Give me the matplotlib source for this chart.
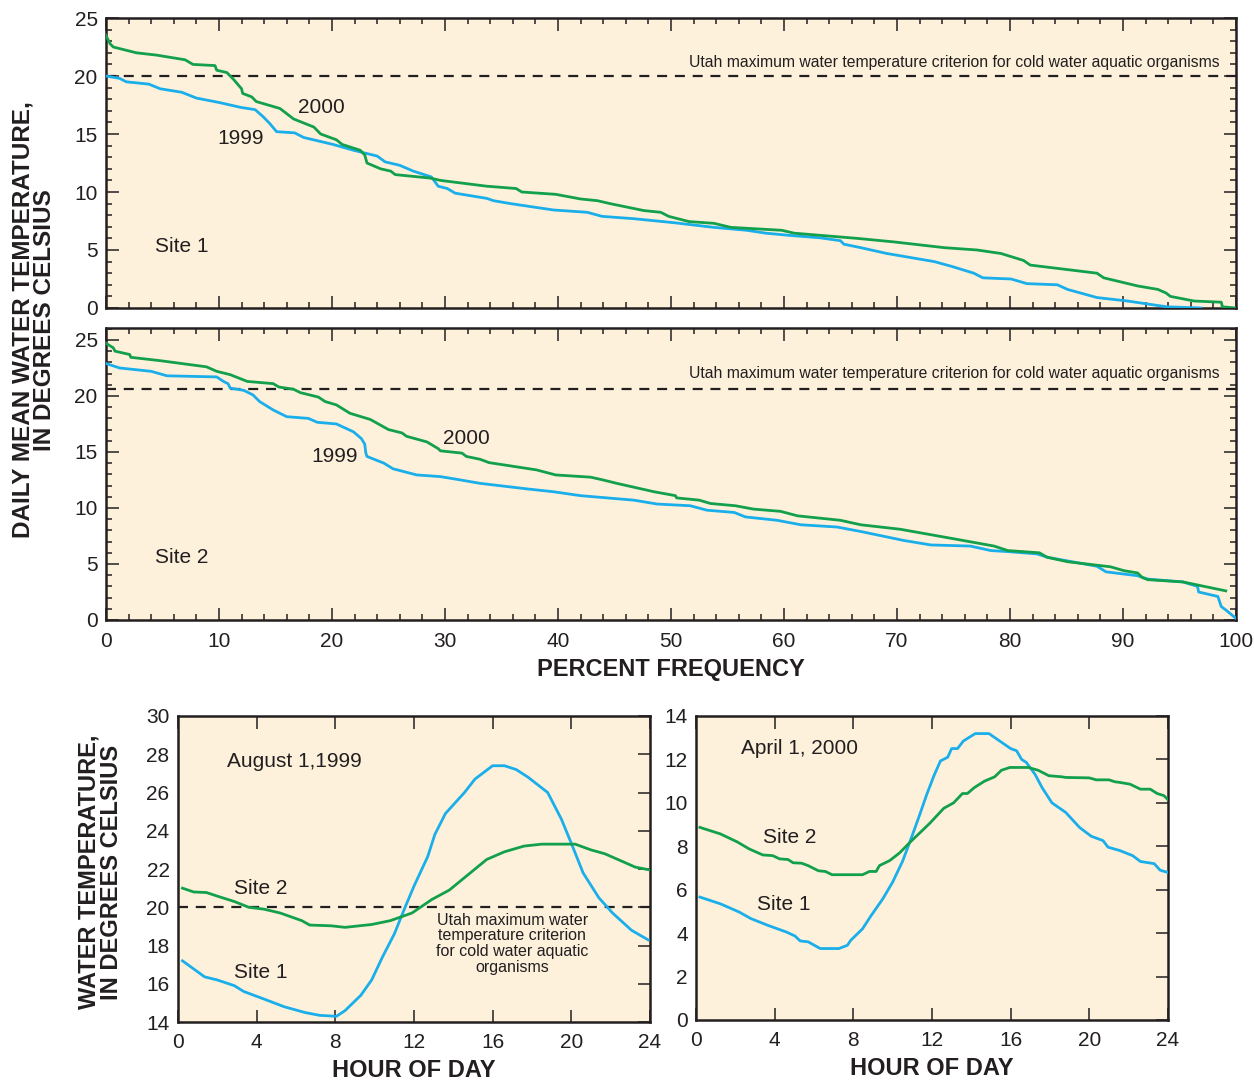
import numpy as np
import matplotlib
matplotlib.use("Agg")
import matplotlib.pyplot as plt
from matplotlib.ticker import MultipleLocator

plt.rcParams["font.family"] = ["Liberation Sans", "DejaVu Sans"]

# duration curves: percent of time a daily mean was equalled or exceeded
site1_2000_pct = [0, 0.35, 0.65, 2.7, 4.5, 7.0, 7.7, 9.65, 9.8, 10.7, 11.3, 12.0, 12.1, 12.9, 13.3,
                  15.4, 16.6, 18.4, 19.0, 20.4, 20.9, 22.5, 22.9, 23.1, 24.3, 25.2, 25.6, 28.7, 29.6,
                  33.7, 36.3, 36.8, 39.8, 42.0, 43.5, 44.6, 46.1, 47.6, 49.1, 49.8, 51.6, 53.8, 55.3,
                  59.8, 60.9, 66.5, 69.7, 74.2, 77.1, 79.2, 81.2, 81.8, 87.7, 88.3, 91.3, 93.1, 93.8,
                  94.2, 96.3, 98.7, 98.8, 100]
site1_2000_temp = [23.5, 22.8, 22.5, 22.0, 21.8, 21.4, 21.0, 20.9, 20.5, 20.3, 19.7, 18.9, 18.5, 18.2,
                   17.8, 17.2, 16.3, 15.6, 15.0, 14.5, 14.1, 13.6, 13.2, 12.5, 12.0, 11.8, 11.5, 11.2,
                   11.0, 10.5, 10.3, 10.0, 9.8, 9.4, 9.25, 9.0, 8.7, 8.4, 8.25, 7.9, 7.45, 7.3, 6.95,
                   6.7, 6.45, 6.0, 5.7, 5.2, 5.0, 4.7, 4.1, 3.7, 3.0, 2.6, 1.9, 1.6, 1.3, 1.0, 0.6, 0.5,
                   0.1, 0.0]

site1_1999_pct = [0, 1.2, 1.8, 3.8, 4.8, 6.7, 8.0, 10.1, 11.9, 13.2, 13.9, 14.5, 15.1, 16.7, 17.5,
                  20.1, 21.9, 24.0, 24.7, 26.0, 27.2, 28.8, 29.4, 30.2, 30.9, 33.7, 34.3, 35.8, 39.6,
                  42.6, 43.9, 46.7, 50.3, 53.8, 56.7, 58.4, 60.6, 63.2, 65.0, 65.3, 66.8, 69.1, 73.3,
                  74.8, 76.8, 77.6, 80.1, 81.5, 84.2, 85.1, 87.7, 90.4, 93.9, 96.9]
site1_1999_temp = [20.0, 19.8, 19.5, 19.3, 18.9, 18.6, 18.1, 17.7, 17.3, 17.1, 16.5, 15.9, 15.2, 15.1,
                   14.7, 14.1, 13.6, 13.1, 12.6, 12.3, 11.8, 11.3, 10.5, 10.3, 9.9, 9.45, 9.25, 9.0,
                   8.45, 8.25, 7.9, 7.7, 7.35, 6.95, 6.7, 6.45, 6.25, 6.05, 5.8, 5.5, 5.2, 4.7, 4.0,
                   3.6, 3.0, 2.6, 2.5, 2.1, 2.0, 1.6, 0.9, 0.6, 0.1, 0.0]

site2_2000_pct = [0, 0.65, 0.8, 2.1, 2.2, 4.8, 8.9, 9.8, 11.0, 12.5, 14.8, 15.3, 16.6, 17.2, 18.8,
                  19.4, 20.4, 21.6, 23.4, 25.0, 26.2, 26.6, 28.4, 29.4, 29.6, 31.5, 31.9, 33.1, 33.9,
                  38.1, 39.8, 42.9, 44.0, 45.2, 48.5, 50.4, 50.5, 52.5, 53.5, 55.7, 57.3, 59.7, 61.2,
                  65.0, 66.8, 70.3, 75.3, 78.6, 79.8, 82.6, 83.3, 85.1, 88.9, 90.1, 91.3, 91.7, 92.2,
                  95.3, 97.2, 99.1]
site2_2000_temp = [24.7, 24.3, 24.0, 23.7, 23.45, 23.15, 22.6, 22.2, 21.9, 21.3, 21.1, 20.8, 20.6,
                   20.3, 19.9, 19.5, 19.2, 18.45, 17.9, 17.0, 16.7, 16.4, 15.9, 15.3, 15.1, 14.9,
                   14.6, 14.35, 14.05, 13.4, 12.95, 12.75, 12.5, 12.2, 11.45, 11.1, 10.9, 10.7, 10.4,
                   10.2, 9.9, 9.7, 9.3, 8.9, 8.5, 8.1, 7.2, 6.6, 6.2, 6.0, 5.6, 5.2, 4.75, 4.4, 4.2,
                   3.8, 3.6, 3.4, 3.0, 2.6]

site2_1999_pct = [0, 1.2, 4.0, 5.4, 9.8, 10.4, 10.8, 11.0, 12.2, 13.0, 13.6, 14.8, 16.0, 17.9, 18.7,
                  20.4, 21.9, 22.6, 22.9, 23.0, 23.1, 24.6, 25.4, 27.5, 29.6, 31.1, 33.1, 37.3, 39.6,
                  42.0, 46.7, 48.8, 51.7, 53.2, 55.6, 56.6, 59.4, 61.5, 64.7, 66.8, 70.6, 73.0, 76.5,
                  78.3, 79.9, 82.4, 83.3, 87.7, 88.5, 91.3, 92.2, 95.3, 96.6, 96.7, 98.4, 98.7, 99.1,
                  100]
site2_1999_temp = [22.9, 22.5, 22.2, 21.8, 21.7, 21.3, 21.1, 20.7, 20.5, 20.1, 19.5, 18.75, 18.15,
                   18.0, 17.65, 17.5, 16.8, 16.2, 15.7, 14.9, 14.6, 14.0, 13.5, 12.95, 12.8, 12.55,
                   12.2, 11.7, 11.45, 11.1, 10.7, 10.35, 10.2, 9.8, 9.6, 9.2, 8.9, 8.5, 8.3, 7.9, 7.1,
                   6.7, 6.6, 6.2, 6.1, 5.9, 5.6, 4.8, 4.3, 3.95, 3.65, 3.4, 3.0, 2.5, 2.1, 1.2, 0.9,
                   0.15]

# hourly record, August 1, 1999
aug_site1_hour = [0.23, 1.36, 2.0, 2.87, 3.34, 4.38, 5.4, 6.45, 7.2, 8.06, 8.5, 9.3, 9.85, 10.4, 11.0,
                  11.55, 12.0, 12.7, 13.06, 13.6, 14.57, 15.1, 16.0, 16.6, 17.2, 17.8, 18.8, 19.5,
                  20.0, 20.6, 21.4, 22.1, 23.06, 23.9]
aug_site1_temp = [17.2, 16.36, 16.2, 15.9, 15.6, 15.2, 14.8, 14.5, 14.35, 14.3, 14.6, 15.4, 16.2, 17.4,
                  18.6, 20.0, 21.1, 22.65, 23.8, 24.9, 26.0, 26.7, 27.4, 27.4, 27.2, 26.8, 26.0, 24.6,
                  23.35, 21.8, 20.5, 19.7, 18.8, 18.3]
aug_site2_hour = [0.23, 0.8, 1.45, 2.1, 2.87, 3.6, 4.38, 5.2, 6.3, 6.7, 7.8, 8.5, 9.85, 10.8, 11.9,
                  12.9, 13.8, 14.75, 15.7, 16.6, 17.6, 18.5, 20.2, 21.0, 21.7, 22.7, 23.25, 24.0]
aug_site2_temp = [21.0, 20.8, 20.77, 20.55, 20.3, 20.0, 19.9, 19.7, 19.3, 19.07, 19.03, 18.95, 19.1,
                  19.3, 19.7, 20.4, 20.9, 21.7, 22.5, 22.9, 23.2, 23.3, 23.3, 23.0, 22.8, 22.35, 22.1,
                  21.95]

# hourly record, April 1, 2000
apr_site1_hour = [0.2, 1.24, 2.2, 2.79, 3.65, 4.6, 5.03, 5.3, 5.7, 6.32, 7.27, 7.7, 7.87, 8.47, 8.9,
                  9.5, 10.0, 10.5, 10.9, 11.3, 11.74, 12.1, 12.43, 12.8, 13.0, 13.3, 13.6, 14.2, 14.9,
                  15.44, 16.0, 16.3, 16.56, 16.8, 17.25, 17.6, 18.1, 18.8, 19.5, 20.1, 20.7, 20.95,
                  21.56, 22.2, 22.6, 23.3, 23.6, 23.97]
apr_site1_temp = [5.66, 5.35, 4.97, 4.67, 4.36, 4.05, 3.87, 3.64, 3.6, 3.29, 3.29, 3.44, 3.67, 4.2, 4.8,
                  5.58, 6.35, 7.3, 8.26, 9.26, 10.4, 11.25, 11.93, 12.1, 12.5, 12.5, 12.85, 13.19,
                  13.19, 12.85, 12.5, 12.4, 12.0, 11.86, 11.3, 10.7, 10.0, 9.56, 8.87, 8.46, 8.26,
                  7.96, 7.8, 7.57, 7.3, 7.2, 6.9, 6.8]
apr_site2_hour = [0.2, 1.24, 2.1, 2.7, 3.4, 3.9, 4.25, 4.68, 4.94, 5.37, 5.7, 6.23, 6.58, 6.92, 8.47,
                  8.82, 9.16, 9.33, 9.85, 10.36, 10.9, 11.5, 11.9, 12.6, 13.1, 13.55, 13.8, 14.15,
                  14.67, 15.19, 15.53, 15.96, 16.9, 17.4, 17.94, 18.6, 18.8, 20.0, 20.35, 21.0, 21.3,
                  21.56, 22.07, 22.6, 23.1, 23.45, 23.8, 23.97]
apr_site2_temp = [8.87, 8.57, 8.2, 7.88, 7.6, 7.57, 7.42, 7.39, 7.24, 7.22, 7.11, 6.87, 6.84, 6.69, 6.69,
                  6.84, 6.84, 7.11, 7.34, 7.7, 8.2, 8.72, 9.07, 9.75, 10.0, 10.43, 10.43, 10.7, 11.0,
                  11.2, 11.5, 11.63, 11.63, 11.5, 11.25, 11.2, 11.17, 11.15, 11.06, 11.06, 10.97,
                  10.94, 10.86, 10.63, 10.63, 10.43, 10.33, 10.17]

criterion = 20.0
criterion_site2 = 20.6

GREEN = "#12A04C"
BLUE = "#1AAEEA"
BG = "#FDF1DC"
INK = "#231F20"
CRIT_TEXT = "Utah maximum water temperature criterion for cold water aquatic organisms"


def style_axes(ax):
    ax.set_facecolor(BG)
    for sp in ax.spines.values():
        sp.set_linewidth(1.8)
        sp.set_color(INK)
    ax.tick_params(which="both", direction="in", top=True, right=True,
                   colors=INK, labelsize=15, width=1.1, pad=6)
    ax.tick_params(which="major", length=9)
    ax.tick_params(which="minor", length=4.5)


def crit_line(ax, y):
    ax.axhline(y, color=INK, lw=1.6, dashes=(4.5, 3.5), zorder=1)


fig = plt.figure(figsize=(12.54, 10.86), dpi=100)

ax1 = fig.add_axes([0.0845, 0.7164, 0.9011, 0.2670])
ax2 = fig.add_axes([0.0845, 0.4291, 0.9011, 0.2689])

for ax, ylim in ((ax1, 25), (ax2, 26.07)):
    style_axes(ax)
    ax.set_xlim(0, 100)
    ax.set_ylim(0, ylim)
    ax.xaxis.set_major_locator(MultipleLocator(10))
    ax.xaxis.set_minor_locator(MultipleLocator(2))
    ax.set_yticks([0, 5, 10, 15, 20, 25])
    ax.yaxis.set_minor_locator(MultipleLocator(1))
    ax.tick_params(axis="x", pad=9)

ax1.tick_params(axis="x", labelbottom=False)

ax1.plot(site1_1999_pct, site1_1999_temp, color=BLUE, lw=2, zorder=3)
ax1.plot(site1_2000_pct, site1_2000_temp, color=GREEN, lw=2, zorder=3)
crit_line(ax1, criterion)
ax1.text(98.6, 21.2, CRIT_TEXT, fontsize=11.3, color=INK, ha="right", va="center")
ax1.text(17.0, 17.3, "2000", fontsize=15, color=INK, va="center")
ax1.text(9.9, 14.65, "1999", fontsize=15, color=INK, va="center")
ax1.text(4.3, 5.3, "Site 1", fontsize=15, color=INK, va="center")

ax2.plot(site2_1999_pct, site2_1999_temp, color=BLUE, lw=2, zorder=3)
ax2.plot(site2_2000_pct, site2_2000_temp, color=GREEN, lw=2, zorder=3)
crit_line(ax2, criterion_site2)
ax2.text(98.6, 22.05, CRIT_TEXT, fontsize=11.3, color=INK, ha="right", va="center")
ax2.text(29.8, 16.2, "2000", fontsize=15, color=INK, va="center")
ax2.text(18.2, 14.6, "1999", fontsize=15, color=INK, va="center")
ax2.text(4.3, 5.6, "Site 2", fontsize=15, color=INK, va="center")
ax2.set_xlabel("PERCENT FREQUENCY", fontsize=17, fontweight="bold", color=INK, labelpad=5)

fig.text(0.027, 0.7053, "DAILY MEAN WATER TEMPERATURE,\nIN DEGREES CELSIUS", rotation=90,
         ha="center", va="center", multialignment="center", fontsize=17.5,
         fontweight="bold", color=INK, linespacing=0.95)

# diurnal panels
ax3 = fig.add_axes([0.1419, 0.0589, 0.3764, 0.2818])
ax4 = fig.add_axes([0.5550, 0.0608, 0.3764, 0.2799])

for ax in (ax3, ax4):
    style_axes(ax)
    ax.set_xlim(0, 24)
    ax.set_xticks(range(0, 25, 4))
    ax.yaxis.set_major_locator(MultipleLocator(2))
    ax.tick_params(axis="y", left=False)
    ax.tick_params(axis="x", pad=8)
    ax.set_xlabel("HOUR OF DAY", fontsize=17, fontweight="bold", color=INK, labelpad=5)

ax3.set_ylim(14, 30)
ax3.plot(aug_site1_hour, aug_site1_temp, color=BLUE, lw=2, zorder=3)
ax3.plot(aug_site2_hour, aug_site2_temp, color=GREEN, lw=2, zorder=3)
crit_line(ax3, criterion)
ax3.text(2.5, 27.6, "August 1,1999", fontsize=15, color=INK, va="center")
ax3.text(2.85, 21.0, "Site 2", fontsize=15, color=INK, va="center")
ax3.text(2.85, 16.6, "Site 1", fontsize=15, color=INK, va="center")
ax3.text(17.0, 18.1, "Utah maximum water\ntemperature criterion\nfor cold water aquatic\norganisms",
         fontsize=11.5, color=INK, ha="center", va="center", linespacing=1.05)

ax4.set_ylim(0, 14)
ax4.plot(apr_site1_hour, apr_site1_temp, color=BLUE, lw=2, zorder=3)
ax4.plot(apr_site2_hour, apr_site2_temp, color=GREEN, lw=2, zorder=3)
ax4.text(2.3, 12.5, "April 1, 2000", fontsize=15, color=INK, va="center")
ax4.text(3.4, 8.4, "Site 2", fontsize=15, color=INK, va="center")
ax4.text(3.1, 5.3, "Site 1", fontsize=15, color=INK, va="center")

fig.text(0.08, 0.197, "WATER TEMPERATURE,\nIN DEGREES CELSIUS", rotation=90,
         ha="center", va="center", multialignment="center", fontsize=17,
         fontweight="bold", color=INK, linespacing=0.95)

fig.savefig("out.png", dpi=100, facecolor="white")
